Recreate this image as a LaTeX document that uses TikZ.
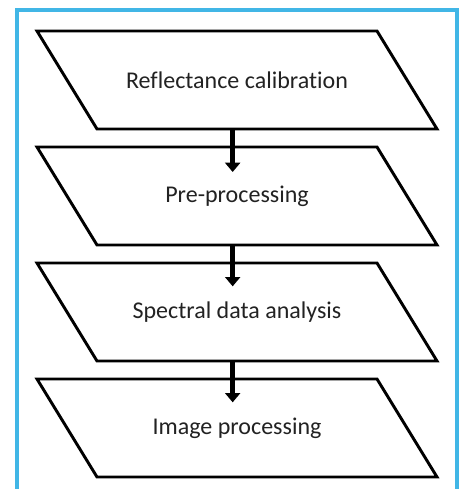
\documentclass[tikz,border=0pt]{standalone}
\usepackage{fontspec}
\setmainfont[Ligatures=NoCommon]{Carlito}
\usepackage{tikz}
\usetikzlibrary{arrows.meta,positioning}
\definecolor{framecyan}{HTML}{41B6E6}
\definecolor{inkgray}{HTML}{222222}

\begin{document}
\begin{tikzpicture}[
  font=\fontsize{20.5}{24}\selectfont,
  flow/.style={-{Triangle[width=4.5mm,length=2.8mm]}, line width=4.2pt, draw=black},
  stage/.style={minimum width=10.2cm, minimum height=2.94cm, text=inkgray,
                align=center, inner sep=0pt, outer sep=0pt},
  outline/.style={draw=black, line width=2.5pt, fill=white},
  node distance=0.54cm
]

%% The page is 462 x 489 px at 0.03cm per px; the frame runs off the bottom.
\clip (0,0) rectangle (13.86,-14.67);
\draw[framecyan, line width=2.6pt] (0.51,-15.5) |- (13.71,-0.30) -- (13.71,-15.5);

%% ---- the four stages ------------------------------------------------------
\node[stage] (calib) at (7.11,-2.40) {};
\node[stage, below=of calib] (prep) {};
\node[stage, below=of prep] (spec) {};
\node[stage, below=of spec] (imgproc) {};

%% Top edge sits 9mm left of the body, bottom edge 9mm right of it.
\foreach \s/\txt in {calib/Reflectance calibration, prep/Pre-processing,
                     spec/Spectral data analysis, imgproc/Image processing} {
  \draw[outline] ([xshift=-9mm]\s.north west) -- ([xshift=-9mm]\s.north east)
    -- ([xshift=9mm]\s.south east) -- ([xshift=9mm]\s.south west) -- cycle;
  \node[text=inkgray] at (\s) {\txt};
}

%% Each arrow overruns the top edge of the next stage.
\draw[flow] ([xshift=-1.3mm]calib.south) -- ([xshift=-1.3mm,yshift=-7.5mm]prep.north);
\draw[flow] ([xshift=-1.3mm]prep.south) -- ([xshift=-1.3mm,yshift=-7.0mm]spec.north);
\draw[flow] ([xshift=-1.3mm]spec.south) -- ([xshift=-1.3mm,yshift=-7.0mm]imgproc.north);

\end{tikzpicture}
\end{document}
